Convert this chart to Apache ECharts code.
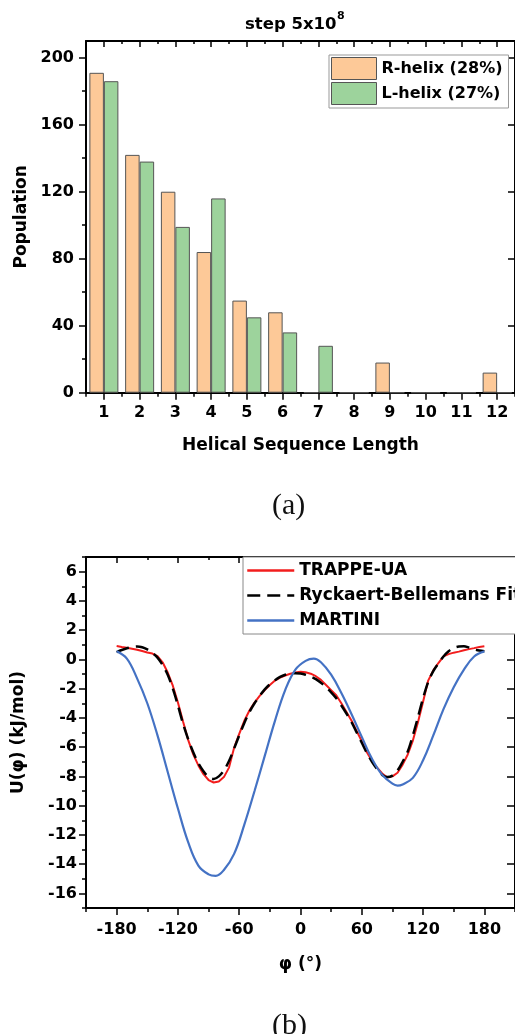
<!DOCTYPE html>
<html><head><meta charset="utf-8">
<script src="https://cdn.jsdelivr.net/npm/echarts@6/dist/echarts.min.js"></script>
<style>html,body{margin:0;padding:0;background:#fff;}#c{width:515px;height:1034px;}</style>
</head><body><div id="c"></div>
<script>
// ---------- (a) helical sequence length histogram ----------
const lengthCategories = ['1','2','3','4','5','6','7','8','9','10','11','12'];
const rHelix = [191, 142, 120, 84, 55, 48, 0, 0, 18, 0, 0, 12];
const lHelix = [186, 138, 99, 116, 45, 36, 28, 0, 0, 0, 0, 0];
const lengthMajorTicks = [1,2,3,4,5,6,7,8,9,10,11,12];
const lengthMinorTicks = [0.5,1.5,2.5,3.5,4.5,5.5,6.5,7.5,8.5,9.5,10.5,11.5,12.5];
const populationTicks = [0, 40, 80, 120, 160, 200];
const populationMinorTicks = [20, 60, 100, 140, 180];

// ---------- (b) dihedral potentials ----------
const phiTicks = [-180, -120, -60, 0, 60, 120, 180];
const phiMinorTicks = [-210, -150, -90, -30, 30, 90, 150, 210];
const uTicks = [-16, -14, -12, -10, -8, -6, -4, -2, 0, 2, 4, 6];
const uMinorTicks = [-17, -15, -13, -11, -9, -7, -5, -3, -1, 1, 3, 5, 7];

const phiGrid = [-180,-175,-170,-165,-160,-155,-150,-145,-140,-135,-130,-125,-120,-115,-110,-105,-100,-95,-90,-85,-80,-75,-70,-65,-60,-55,-50,-45,-40,-35,-30,-25,-20,-15,-10,-5,0,5,10,15,20,25,30,35,40,45,50,55,60,65,70,75,80,85,90,95,100,105,110,115,120,125,130,135,140,145,150,155,160,165,170,175,180];
const trappeUA = [0.91,0.84,0.80,0.73,0.66,0.57,0.47,0.40,0.22,-0.20,-0.90,-1.80,-2.95,-4.25,-5.50,-6.50,-7.25,-7.85,-8.25,-8.42,-8.35,-8.05,-7.40,-6.05,-5.10,-4.20,-3.50,-2.95,-2.50,-2.10,-1.75,-1.45,-1.25,-1.10,-0.98,-0.90,-0.85,-0.88,-0.98,-1.15,-1.40,-1.75,-2.10,-2.45,-3.00,-3.60,-4.20,-4.90,-5.60,-6.35,-6.95,-7.40,-7.80,-8.08,-8.00,-7.75,-7.20,-6.50,-5.55,-4.30,-2.90,-1.45,-0.75,-0.25,0.20,0.36,0.46,0.53,0.62,0.70,0.77,0.85,0.90];
const rbFit = [0.50,0.64,0.76,0.84,0.88,0.83,0.68,0.45,0.12,-0.38,-1.05,-2.00,-3.15,-4.40,-5.45,-6.35,-7.10,-7.65,-8.05,-8.18,-8.00,-7.60,-6.95,-6.10,-5.20,-4.35,-3.60,-3.00,-2.50,-2.05,-1.70,-1.42,-1.20,-1.05,-0.98,-0.95,-0.97,-1.05,-1.18,-1.35,-1.60,-1.90,-2.25,-2.65,-3.15,-3.70,-4.30,-5.00,-5.70,-6.40,-7.00,-7.50,-7.90,-8.05,-7.95,-7.60,-7.00,-6.30,-5.20,-3.95,-2.65,-1.55,-0.80,-0.28,0.20,0.55,0.78,0.88,0.90,0.80,0.68,0.60,0.55];
const martiniPhi = [-180,-170,-160,-150,-140,-130,-120,-110,-100,-90,-83,-75,-65,-55,-45,-35,-25,-15,-5,5,13,20,30,40,50,60,70,80,90,95,100,110,120,130,140,150,160,170,180];
const martiniU = [0.55,0.05,-1.3,-3.0,-5.2,-7.7,-10.2,-12.5,-14.1,-14.7,-14.8,-14.4,-13.3,-11.3,-9.0,-6.6,-4.2,-2.1,-0.7,-0.1,0.05,-0.2,-1.05,-2.3,-3.75,-5.3,-6.8,-7.9,-8.5,-8.63,-8.55,-8.1,-6.9,-5.2,-3.4,-1.9,-0.7,0.2,0.55];

const F = 'DejaVu Sans';
function txt(extra) { return Object.assign({fontFamily: F, fontWeight: 'bold', fontSize: 16, color: '#000'}, extra || {}); }
const axLine = {show: true, onZero: false, lineStyle: {color: '#000', width: 2}};
const noLine = {show: false, onZero: false};
function tick(vals, len, inside) { return {show: true, inside: !!inside, customValues: vals, length: len, lineStyle: {color: '#000', width: 1.5}}; }
function hid(o) { return Object.assign({axisLabel: {show: false}, splitLine: {show: false}, axisLine: noLine}, o); }

const chart = echarts.init(document.getElementById('c'), null, {renderer: 'canvas', width: 515, height: 1034});

const option = {
  animation: false,
  backgroundColor: '#fff',
  grid: [
    {left: 86, top: 41, width: 435.6, height: 351.7},
    {left: 86, top: 557, width: 436.8, height: 351}
  ],
  xAxis: [
    {gridIndex: 0, type: 'category', data: lengthCategories, position: 'bottom', axisLine: axLine,
     axisTick: {show: true, alignWithLabel: true, length: 7, lineStyle: {color: '#000', width: 1.5}},
     axisLabel: txt({margin: 12, interval: 0}), splitLine: {show: false},
     name: 'Helical Sequence Length', nameLocation: 'middle', nameGap: 44, nameTextStyle: txt({fontSize: 17})},
    hid({gridIndex: 0, type: 'value', min: 0.5, max: 12.5, position: 'bottom', axisTick: tick(lengthMinorTicks, 4)}),
    hid({gridIndex: 0, type: 'value', min: 0.5, max: 12.5, position: 'top', axisLine: axLine, axisTick: tick(lengthMajorTicks, 6, true)}),
    hid({gridIndex: 0, type: 'value', min: 0.5, max: 12.5, position: 'top', axisTick: tick(lengthMinorTicks, 3, true)}),
    {gridIndex: 1, type: 'value', min: -210, max: 210, position: 'bottom', axisLine: axLine,
     axisTick: tick(phiTicks, 7), axisLabel: txt({customValues: phiTicks, margin: 14}), splitLine: {show: false},
     name: 'φ (°)', nameLocation: 'middle', nameGap: 48, nameTextStyle: txt({fontSize: 17})},
    hid({gridIndex: 1, type: 'value', min: -210, max: 210, position: 'bottom', axisTick: tick(phiMinorTicks, 4)}),
    hid({gridIndex: 1, type: 'value', min: -210, max: 210, position: 'top', axisLine: axLine, axisTick: tick(phiTicks, 6, true)}),
    hid({gridIndex: 1, type: 'value', min: -210, max: 210, position: 'top', axisTick: tick(phiMinorTicks, 3, true)})
  ],
  yAxis: [
    {gridIndex: 0, type: 'value', min: 0, max: 210, position: 'left', axisLine: axLine,
     axisTick: tick(populationTicks, 7), axisLabel: txt({customValues: populationTicks, margin: 12}), splitLine: {show: false},
     name: 'Population', nameLocation: 'middle', nameGap: 52, nameTextStyle: txt({fontSize: 17})},
    hid({gridIndex: 0, type: 'value', min: 0, max: 210, position: 'left', axisTick: tick(populationMinorTicks, 4)}),
    hid({gridIndex: 0, type: 'value', min: 0, max: 210, position: 'right', axisLine: axLine, axisTick: tick(populationTicks, 7, true)}),
    {gridIndex: 1, type: 'value', min: -17, max: 7, position: 'left', axisLine: axLine,
     axisTick: tick(uTicks, 7), axisLabel: txt({customValues: uTicks, margin: 9}), splitLine: {show: false},
     name: 'U(φ) (kJ/mol)', nameLocation: 'middle', nameGap: 59, nameTextStyle: txt({fontSize: 17})},
    hid({gridIndex: 1, type: 'value', min: -17, max: 7, position: 'left', axisTick: tick(uMinorTicks, 4)}),
    hid({gridIndex: 1, type: 'value', min: -17, max: 7, position: 'right', axisLine: axLine, axisTick: tick(uTicks, 8, true)})
  ],
  legend: [
    {data: ['R-helix (28%)', 'L-helix (27%)'], orient: 'vertical', left: 329, top: 55,
     itemWidth: 45, itemHeight: 22, itemGap: 2, padding: [2, 6, 3, 2], icon: 'rect',
     itemStyle: {borderColor: '#555', borderWidth: 1},
     textStyle: txt({fontSize: 16}), borderColor: '#999', borderWidth: 1, backgroundColor: '#fff', selectedMode: false},
    {data: ['TRAPPE-UA', 'Ryckaert-Bellemans Fit', 'MARTINI'], orient: 'vertical', left: 243, top: 557,
     itemWidth: 47, itemHeight: 17, itemGap: 8, padding: [5, 40, 5, 3],
     itemStyle: {opacity: 0}, lineStyle: {width: 2.5},
     textStyle: txt({fontSize: 17}), borderColor: '#888', borderWidth: 1, backgroundColor: '#fff', selectedMode: false}
  ],
  series: [
    {type: 'bar', name: 'R-helix (28%)', xAxisIndex: 0, yAxisIndex: 0, data: rHelix, barWidth: 14.5, barGap: '0%',
     itemStyle: {color: '#FDC998', borderColor: '#555', borderWidth: 1}},
    {type: 'bar', name: 'L-helix (27%)', xAxisIndex: 0, yAxisIndex: 0, data: lHelix, barWidth: 14.5, barGap: '0%',
     itemStyle: {color: '#9DD39C', borderColor: '#555', borderWidth: 1}},
    {type: 'line', name: 'TRAPPE-UA', xAxisIndex: 4, yAxisIndex: 3, symbol: 'none', smooth: false,
     data: phiGrid.map((p, i) => [p, trappeUA[i]]), lineStyle: {color: '#F21D1D', width: 2}, itemStyle: {color: '#F21D1D'}},
    {type: 'line', name: 'Ryckaert-Bellemans Fit', xAxisIndex: 4, yAxisIndex: 3, symbol: 'none', smooth: 0.3,
     data: phiGrid.map((p, i) => [p, rbFit[i]]), lineStyle: {color: '#000', width: 2.5, type: [13, 7]}, itemStyle: {color: '#000'}},
    {type: 'line', name: 'MARTINI', xAxisIndex: 4, yAxisIndex: 3, symbol: 'none', smooth: 0.4,
     data: martiniPhi.map((p, i) => [p, martiniU[i]]), lineStyle: {color: '#4472C4', width: 2.2}, itemStyle: {color: '#4472C4'}}
  ],
  graphic: [
    {type: 'text', left: 245, top: 16, style: {text: 'step 5x10', font: 'bold 16.5px "DejaVu Sans"', fill: '#000'}},
    {type: 'text', left: 337, top: 11, style: {text: '8', font: 'bold 11px "DejaVu Sans"', fill: '#000'}},
    {type: 'text', left: 272, top: 491, style: {text: '(a)', font: '30px "Liberation Serif"', fill: '#111'}},
    {type: 'text', left: 272, top: 1011, style: {text: '(b)', font: '30px "Liberation Serif"', fill: '#111'}}
  ]
};
chart.setOption(option);
</script></body></html>
